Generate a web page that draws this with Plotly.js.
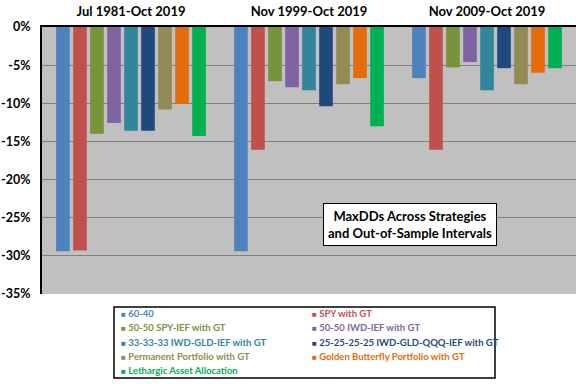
<!DOCTYPE html>
<html>
<head>
<meta charset="utf-8">
<script src="https://cdn.plot.ly/plotly-3.0.1.min.js"></script>
<style>html,body{margin:0;padding:0;background:#fff;}#chart{width:576px;height:384px;}</style>
</head>
<body>
<div id="chart"></div>
<script>
var categories = ["Jul 1981-Oct 2019", "Nov 1999-Oct 2019", "Nov 2009-Oct 2019"];
var seriesNames = [
  "60-40",
  "SPY with GT",
  "50-50 SPY-IEF with GT",
  "50-50 IWD-IEF with GT",
  "33-33-33 IWD-GLD-IEF with GT",
  "25-25-25-25 IWD-GLD-QQQ-IEF with GT",
  "Permanent Portfolio with GT",
  "Golden Butterfly Portfolio with GT",
  "Lethargic Asset Allocation"
];
var seriesColors = ["#4F81BD", "#C0504D", "#77933C", "#8064A2", "#31859C", "#1F497D", "#948A54", "#E46C0A", "#00B050"];
var v6040      = [-29.4, -29.4, -6.7];
var vSPY       = [-29.3, -16.1, -16.1];
var vSPYIEF    = [-14.0, -7.1, -5.3];
var vIWDIEF    = [-12.6, -7.9, -4.6];
var vIWDGLDIEF = [-13.6, -8.3, -8.3];
var vQuad      = [-13.6, -10.4, -5.4];
var vPermanent = [-10.8, -7.5, -7.5];
var vGolden    = [-10.1, -6.7, -6.0];
var vLethargic = [-14.3, -13.0, -5.4];
var seriesValues = [v6040, vSPY, vSPYIEF, vIWDIEF, vIWDGLDIEF, vQuad, vPermanent, vGolden, vLethargic];
var yTickVals = [0, -5, -10, -15, -20, -25, -30, -35];
var yTickText = ["0%", "-5%", "-10%", "-15%", "-20%", "-25%", "-30%", "-35%"];
var boxText = "MaxDDs Across Strategies<br>and Out-of-Sample Intervals";

var W = 576, H = 384, ML = 42, MR = 0, MT = 27, MB = 90;
var PW = W - ML - MR, PH = H - MT - MB;
function px(x) { return (x - ML) / PW; }
function py(y) { return (H - MB - y) / PH; }

var traces = seriesNames.map(function (n, i) {
  return {
    type: "bar", name: n, x: categories, y: seriesValues[i],
    marker: { color: seriesColors[i], line: { width: 0 } },
    hoverinfo: "none"
  };
});

var annotations = [{
  xref: "paper", yref: "paper", x: px(410), y: py(224), xanchor: "center", yanchor: "middle",
  text: "<b>" + boxText + "</b>", showarrow: false,
  font: { family: "Lato, sans-serif", size: 13, color: "#000" },
  bgcolor: "#fff", bordercolor: "#000", borderwidth: 1, borderpad: 4
}];
seriesNames.forEach(function (n, i) {
  var col = i % 2, row = Math.floor(i / 2);
  annotations.push({
    xref: "paper", yref: "paper", x: px(col === 0 ? 119 : 310), y: py(313.5 + row * 14.3),
    xanchor: "left", yanchor: "middle", showarrow: false,
    text: '<span style="font-size:8px">■</span> <b>' + n + "</b>",
    font: { family: "Lato, sans-serif", size: 9.5, color: seriesColors[i] }
  });
});

var layout = {
  width: W, height: H,
  margin: { l: ML, r: MR, t: MT, b: MB, pad: 0 },
  paper_bgcolor: "#fff", plot_bgcolor: "#C0C0C0",
  showlegend: false,
  barmode: "group", bargap: 0.14, bargroupgap: 0.2,
  font: { family: "Lato, sans-serif", color: "#000" },
  xaxis: {
    side: "top", type: "category", showline: true, linecolor: "#000", linewidth: 2,
    showgrid: false, ticks: "", ticklabelstandoff: 4,
    tickfont: { family: "Lato, sans-serif", size: 13, color: "#000", weight: "bold" }
  },
  yaxis: {
    range: [-35, 0], tickmode: "array", tickvals: yTickVals, ticktext: yTickText, ticks: "",
    showline: true, linecolor: "#000", linewidth: 2, zeroline: false,
    showgrid: true, gridcolor: "#808080", gridwidth: 1, ticklabelstandoff: 7,
    tickfont: { family: "Lato, sans-serif", size: 12.5, color: "#000", weight: "bold" }
  },
  shapes: [{
    type: "rect", xref: "paper", yref: "paper", x0: px(114), x1: px(495), y0: py(307), y1: py(378),
    line: { color: "#000", width: 1.5 }, fillcolor: "rgba(0,0,0,0)", layer: "above"
  }],
  annotations: annotations
};

Plotly.newPlot("chart", traces, layout, { staticPlot: true, displayModeBar: false });
</script>
</body>
</html>
